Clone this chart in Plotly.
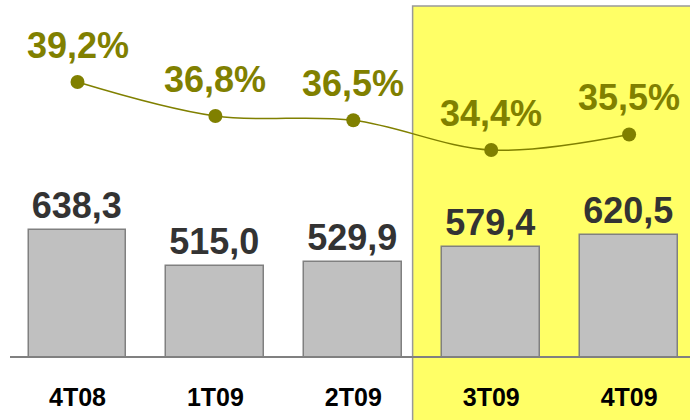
import plotly.graph_objects as go

# data
quarters = ["4T08", "1T09", "2T09", "3T09", "4T09"]
revenue = [638.3, 515.0, 529.9, 579.4, 620.5]
margin_pct = [39.2, 36.8, 36.5, 34.4, 35.5]
highlight_from = 2.43  # highlighted period starts between 2T09 and 3T09

OLIVE = "#808000"
FONT = "Liberation Sans, Arial, sans-serif"

fig = go.Figure()

fig.add_trace(go.Bar(
    x=quarters, y=revenue,
    width=0.71,
    marker=dict(color="#c0c0c0", line=dict(color="#808080", width=1.5)),
    texttemplate="%{y:.1f}",
    textposition="outside",
    textfont=dict(family=FONT, size=36, color="#333333", weight="bold"),
    cliponaxis=False,
    showlegend=False,
))

fig.add_trace(go.Scatter(
    x=quarters, y=margin_pct,
    yaxis="y2",
    mode="lines+markers",
    line=dict(color=OLIVE, width=1.5, shape="spline", smoothing=1),
    marker=dict(color=OLIVE, size=14),
    cliponaxis=False,
    showlegend=False,
))

for q, v in zip(quarters, margin_pct):
    fig.add_annotation(
        x=q, y=v, yref="y2",
        text=f"{v:.1f}%".replace(".", ","),
        showarrow=False, yanchor="bottom", yshift=14,
        font=dict(family=FONT, size=36, color=OLIVE, weight="bold"),
    )

fig.add_shape(
    type="rect", layer="below",
    xref="x", yref="paper",
    x0=highlight_from, x1=5, y0=-0.3, y1=0.983,
    fillcolor="#ffff66", line=dict(color="#999999", width=1.5),
)

fig.update_layout(
    width=690, height=420,
    margin=dict(l=10, r=0, t=0, b=64),
    paper_bgcolor="white", plot_bgcolor="white",
    separators=",.",
    bargap=0,
    hovermode=False,
    xaxis=dict(
        range=[-0.4895, 4.4415],
        showline=True, linecolor="#808080", linewidth=1.5,
        showgrid=False, ticks="",
        ticklabelstandoff=18,
        tickfont=dict(family=FONT, size=25, color="black", weight="bold"),
    ),
    yaxis=dict(range=[203, 1435], visible=False, showgrid=False),
    yaxis2=dict(range=[19.86, 44.99], overlaying="y", visible=False, showgrid=False),
)

fig.write_html(
    "out.html",
    config={"displayModeBar": False},
    post_script="document.body.style.margin='0';",
)
